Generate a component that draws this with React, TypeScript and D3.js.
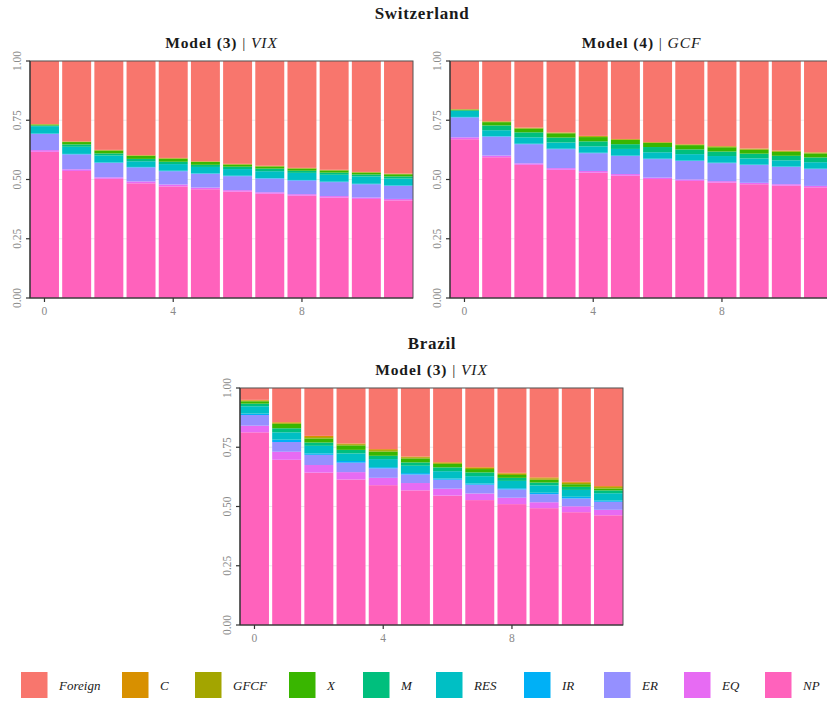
import React from "react";
import * as d3 from "d3";

// Horizons
const horizons = [0, 1, 2, 3, 4, 5, 6, 7, 8, 9, 10, 11];
const xTicks = [0, 4, 8];
const yTicks = [0, 0.25, 0.5, 0.75, 1.0];
const yTickLabels = ["0.00", "0.25", "0.50", "0.75", "1.00"];

// Legend order (top of stack first) and colours
const seriesKeys = ["Foreign", "C", "GFCF", "X", "M", "RES", "IR", "ER", "EQ", "NP"];
const seriesColors = ["#F8766D", "#D89000", "#A3A500", "#39B600", "#00BF7D", "#00BFC4", "#00B0F6", "#9590FF", "#E76BF3", "#FF62BC"];

// Switzerland, Model (3) | VIX
const chVixNP = [0.617, 0.536, 0.503, 0.484, 0.471, 0.459, 0.449, 0.440, 0.432, 0.424, 0.418, 0.412];
const chVixEQ = [0.007, 0.007, 0.006, 0.008, 0.008, 0.007, 0.006, 0.006, 0.006, 0.006, 0.006, 0.006];
const chVixER = [0.068, 0.063, 0.061, 0.059, 0.056, 0.058, 0.059, 0.058, 0.058, 0.059, 0.056, 0.055];
const chVixIR = [0.002, 0.002, 0.002, 0.002, 0.002, 0.002, 0.002, 0.002, 0.002, 0.002, 0.002, 0.002];
const chVixRES = [0.031, 0.030, 0.029, 0.024, 0.028, 0.027, 0.028, 0.029, 0.030, 0.029, 0.031, 0.029];
const chVixM = [0.003, 0.010, 0.009, 0.010, 0.010, 0.009, 0.010, 0.011, 0.009, 0.009, 0.008, 0.009];
const chVixX = [0.004, 0.010, 0.012, 0.013, 0.013, 0.012, 0.009, 0.009, 0.009, 0.009, 0.008, 0.009];
const chVixGFCF = [0.001, 0.002, 0.002, 0.002, 0.002, 0.002, 0.002, 0.002, 0.002, 0.002, 0.002, 0.002];
const chVixC = [0.001, 0.001, 0.001, 0.001, 0.001, 0.001, 0.001, 0.001, 0.001, 0.001, 0.001, 0.001];
const chVixForeign = [0.266, 0.339, 0.375, 0.397, 0.409, 0.423, 0.434, 0.442, 0.451, 0.459, 0.468, 0.475];

// Switzerland, Model (4) | GCF
const chGcfNP = [0.670, 0.594, 0.562, 0.541, 0.529, 0.516, 0.502, 0.494, 0.487, 0.480, 0.474, 0.467];
const chGcfEQ = [0.008, 0.007, 0.006, 0.007, 0.007, 0.007, 0.006, 0.006, 0.006, 0.006, 0.006, 0.006];
const chGcfER = [0.084, 0.080, 0.081, 0.080, 0.075, 0.076, 0.078, 0.078, 0.076, 0.075, 0.073, 0.071];
const chGcfIR = [0.002, 0.002, 0.002, 0.002, 0.002, 0.002, 0.002, 0.002, 0.002, 0.002, 0.002, 0.002];
const chGcfRES = [0.025, 0.025, 0.027, 0.026, 0.027, 0.028, 0.027, 0.027, 0.028, 0.026, 0.026, 0.027];
const chGcfM = [0.003, 0.020, 0.021, 0.021, 0.021, 0.020, 0.022, 0.020, 0.019, 0.020, 0.019, 0.020];
const chGcfX = [0.003, 0.014, 0.016, 0.018, 0.018, 0.018, 0.017, 0.018, 0.018, 0.017, 0.017, 0.017];
const chGcfGFCF = [0.001, 0.003, 0.003, 0.003, 0.004, 0.003, 0.003, 0.003, 0.004, 0.004, 0.004, 0.004];
const chGcfC = [0.001, 0.001, 0.001, 0.001, 0.001, 0.001, 0.001, 0.001, 0.001, 0.001, 0.001, 0.001];
const chGcfForeign = [0.203, 0.254, 0.281, 0.301, 0.316, 0.329, 0.342, 0.351, 0.359, 0.369, 0.378, 0.385];

// Brazil, Model (3) | VIX
const brVixNP = [0.813, 0.697, 0.643, 0.614, 0.590, 0.568, 0.546, 0.527, 0.510, 0.493, 0.476, 0.463];
const brVixEQ = [0.028, 0.034, 0.032, 0.031, 0.031, 0.031, 0.029, 0.028, 0.027, 0.025, 0.025, 0.023];
const brVixER = [0.045, 0.041, 0.043, 0.040, 0.040, 0.036, 0.038, 0.037, 0.035, 0.034, 0.033, 0.034];
const brVixIR = [0.006, 0.010, 0.006, 0.007, 0.005, 0.006, 0.005, 0.005, 0.005, 0.006, 0.007, 0.005];
const brVixRES = [0.031, 0.031, 0.032, 0.032, 0.034, 0.031, 0.031, 0.031, 0.031, 0.031, 0.029, 0.031];
const brVixM = [0.011, 0.017, 0.014, 0.015, 0.014, 0.014, 0.016, 0.016, 0.013, 0.012, 0.013, 0.012];
const brVixX = [0.010, 0.019, 0.017, 0.019, 0.018, 0.017, 0.015, 0.014, 0.012, 0.012, 0.011, 0.008];
const brVixGFCF = [0.003, 0.004, 0.006, 0.005, 0.006, 0.005, 0.004, 0.005, 0.006, 0.006, 0.006, 0.006];
const brVixC = [0.003, 0.003, 0.005, 0.003, 0.004, 0.003, 0.003, 0.003, 0.003, 0.004, 0.004, 0.004];
const brVixForeign = [0.050, 0.144, 0.202, 0.234, 0.258, 0.289, 0.313, 0.334, 0.358, 0.377, 0.396, 0.414];

type Row = { [k: string]: number };

function buildRows(cols: { [k: string]: number[] }): Row[] {
  return horizons.map((h, i) => {
    const r: Row = { h };
    seriesKeys.forEach((k) => (r[k] = cols[k][i]));
    return r;
  });
}

const panels = [
  {
    model: "Model (3)",
    shock: "VIX",
    x0: 30, x1: 413, y0: 61, y1: 298,
    rows: buildRows({ Foreign: chVixForeign, C: chVixC, GFCF: chVixGFCF, X: chVixX, M: chVixM, RES: chVixRES, IR: chVixIR, ER: chVixER, EQ: chVixEQ, NP: chVixNP }),
  },
  {
    model: "Model (4)",
    shock: "GCF",
    x0: 450, x1: 833, y0: 61, y1: 298,
    rows: buildRows({ Foreign: chGcfForeign, C: chGcfC, GFCF: chGcfGFCF, X: chGcfX, M: chGcfM, RES: chGcfRES, IR: chGcfIR, ER: chGcfER, EQ: chGcfEQ, NP: chGcfNP }),
  },
  {
    model: "Model (3)",
    shock: "VIX",
    x0: 240, x1: 623, y0: 388, y1: 625,
    rows: buildRows({ Foreign: brVixForeign, C: brVixC, GFCF: brVixGFCF, X: brVixX, M: brVixM, RES: brVixRES, IR: brVixIR, ER: brVixER, EQ: brVixEQ, NP: brVixNP }),
  },
];

const FONT = "'Liberation Serif', 'DejaVu Serif', serif";
const colorScale = d3.scaleOrdinal<string, string>().domain(seriesKeys).range(seriesColors);
// stack from bottom: NP first ... Foreign last
const stackKeys = seriesKeys.slice().reverse();

function Panel({ p, idx }: { p: any; idx: number }) {
  const x = d3.scaleLinear().domain([-0.45, 11.45]).range([p.x0, p.x1]);
  const y = d3.scaleLinear().domain([0, 1]).range([p.y1, p.y0]);
  const stacked = d3.stack<Row>().keys(stackKeys)(p.rows);
  const bw = 0.9;
  const cx = (p.x0 + p.x1) / 2;
  return (
    <g>
      <defs>
        <clipPath id={`clip${idx}`}>
          <rect x={p.x0} y={p.y0} width={p.x1 - p.x0} height={p.y1 - p.y0} />
        </clipPath>
      </defs>
      <text x={cx} y={p.y0 - 13} textAnchor="middle" fontFamily={FONT} fontSize={15.5} letterSpacing={0.9} fill="#1a1a1a">
        <tspan fontWeight="bold">{p.model}</tspan>
        <tspan> | </tspan>
        <tspan fontStyle="italic">{p.shock}</tspan>
      </text>
      {yTicks.map((t) => (
        <line key={"g" + t} x1={p.x0} x2={p.x1} y1={y(t)} y2={y(t)} stroke="#ebebeb" strokeWidth={1} />
      ))}
      <g clipPath={`url(#clip${idx})`}>
        {stacked.map((s) => (
          <g key={s.key} fill={colorScale(s.key)}>
            {s.map((d, i) => (
              <rect
                key={i}
                x={x(horizons[i] - bw / 2)}
                width={x(bw) - x(0)}
                y={y(d[1])}
                height={Math.max(0, y(d[0]) - y(d[1]))}
              />
            ))}
          </g>
        ))}
      </g>
      <rect x={p.x0} y={p.y0} width={p.x1 - p.x0} height={p.y1 - p.y0} fill="none" stroke="#555" strokeWidth={1} />
      <line x1={p.x0} x2={p.x0} y1={p.y0} y2={p.y1} stroke="#333" strokeWidth={1.2} />
      <line x1={p.x0} x2={p.x1} y1={p.y1} y2={p.y1} stroke="#333" strokeWidth={1.2} />
      {yTicks.map((t, i) => (
        <g key={"y" + t}>
          <line x1={p.x0 - 4} x2={p.x0} y1={y(t)} y2={y(t)} stroke="#333" strokeWidth={1.2} />
          <text
            transform={`translate(${p.x0 - 9},${y(t)}) rotate(-90)`}
            textAnchor="middle"
            fontFamily={FONT}
            fontSize={11.5}
            fill="#8a8a8a"
          >
            {yTickLabels[i]}
          </text>
        </g>
      ))}
      {xTicks.map((t) => (
        <g key={"x" + t}>
          <line x1={x(t)} x2={x(t)} y1={p.y1} y2={p.y1 + 4} stroke="#333" strokeWidth={1.2} />
          <text x={x(t)} y={p.y1 + 17} textAnchor="middle" fontFamily={FONT} fontSize={11.5} fill="#8a8a8a">
            {t}
          </text>
        </g>
      ))}
    </g>
  );
}

const legendSquareX = [21, 122, 195, 289, 363, 436, 524, 604, 684, 765];

export default function App() {
  return (
    <svg
      width={827}
      height={702}
      style={{ position: "absolute", left: 0, top: 0, background: "#fff" }}
    >
      <rect x={0} y={0} width={827} height={702} fill="#fff" />
      <text x={422} y={19} textAnchor="middle" fontFamily={FONT} fontSize={17} letterSpacing={0.7} fontWeight="bold" fill="#1a1a1a">
        Switzerland
      </text>
      <text x={432} y={349} textAnchor="middle" fontFamily={FONT} fontSize={17} letterSpacing={0.7} fontWeight="bold" fill="#1a1a1a">
        Brazil
      </text>
      {panels.map((p, i) => (
        <Panel key={i} p={p} idx={i} />
      ))}
      {seriesKeys.map((k, i) => (
        <g key={k}>
          <rect x={legendSquareX[i]} y={672} width={26.5} height={26} fill={colorScale(k)} />
          <text
            x={legendSquareX[i] + 38}
            y={690}
            fontFamily={FONT}
            fontStyle="italic"
            fontSize={13}
            fill="#1a1a1a"
          >
            {k}
          </text>
        </g>
      ))}
    </svg>
  );
}
